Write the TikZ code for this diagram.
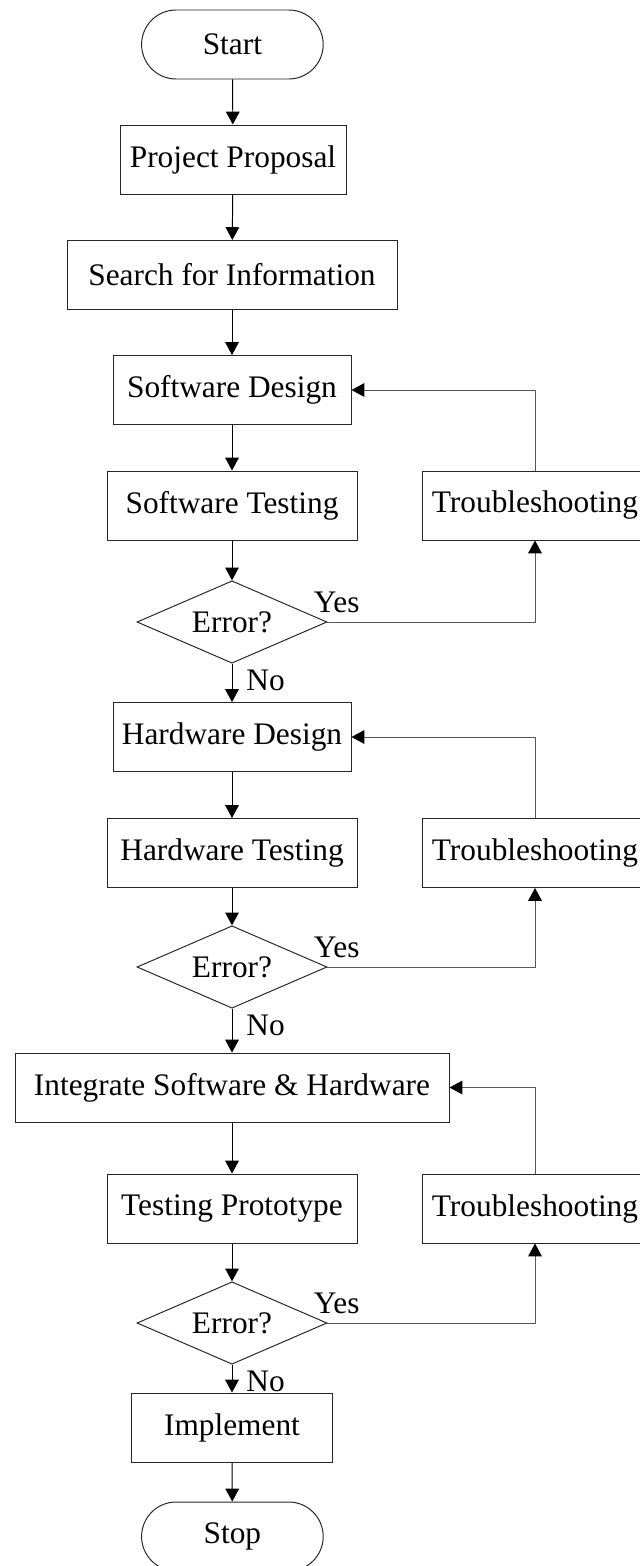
\documentclass[tikz,border=0pt]{standalone}
\usepackage{fontspec}
\setmainfont{Liberation Serif}
\usetikzlibrary{shapes}
\usetikzlibrary{arrows.meta}

\begin{document}
\begin{tikzpicture}[line width=0.7pt, font=\fontsize{22.3}{26}\selectfont,
    box/.style={draw=black!85, rectangle, minimum height=1.725cm, inner sep=0pt},
    term/.style={draw=black!85, rounded rectangle, minimum width=4.775cm, minimum height=1.725cm},
    decision/.style={draw=black!85, diamond, aspect=2.3, minimum width=4.75cm, minimum height=2.06cm, inner sep=0pt},
    flow/.style={-{Triangle[width=0.34cm,length=0.32cm]}},
    back/.style={draw=black!65, -{Triangle[width=0.34cm,length=0.32cm,color=black]}},
    answer/.style={inner sep=0pt}]
            % page size
            \clip (0, 0) rectangle (16, -39.15);

            % main column
            \node[term] (start) at (5.81, -1.1125) {Start};
            \node[box, minimum width=5.65cm] (proposal) at (5.825, -3.9875) {Project Proposal};
            \node[box, minimum width=8.25cm] (search) at (5.8, -6.875) {Search for Information};

            \node[box, minimum width=5.95cm] (swdesign) at (5.8, -9.75) {Software Design};
            \node[box, minimum width=6.25cm] (swtest) at (5.8, -12.6375) {Software Testing};
            \node[decision] (swerror) at (5.8, -15.55) {Error?};

            \node[box, minimum width=5.95cm] (hwdesign) at (5.8, -18.425) {Hardware Design};
            \node[box, minimum width=6.25cm] (hwtest) at (5.8, -21.325) {Hardware Testing};
            \node[decision] (hwerror) at (5.8, -24.175) {Error?};

            \node[box, minimum width=10.85cm] (integrate) at (5.8, -27.1875) {Integrate Software \& Hardware};
            \node[box, minimum width=6.25cm] (prototype) at (5.8, -30.2125) {Testing Prototype};
            \node[decision] (proterror) at (5.8, -33.075) {Error?};

            \node[box, minimum width=5.025cm] (implement) at (5.8, -35.6875) {Implement};
            \node[term] (stop) at (5.81, -38.4125) {Stop};

            % troubleshooting boxes
            \node[box, minimum width=5.65cm] (swfix) at (13.375, -12.6375) {Troubleshooting};
            \node[box, minimum width=5.65cm] (hwfix) at (13.375, -21.325) {Troubleshooting};
            \node[box, minimum width=5.65cm] (protfix) at (13.375, -30.2125) {Troubleshooting};

            % draw main arrows
            \draw[flow] (start) -- (proposal);
            \draw[flow] (proposal) -- (search);
            \draw[flow] (search) -- (swdesign);
            \draw[flow] (swdesign) -- (swtest);
            \draw[flow] (swtest) -- (swerror);
            \draw[flow] (swerror) -- (hwdesign);
            \draw[flow] (hwdesign) -- (hwtest);
            \draw[flow] (hwtest) -- (hwerror);
            \draw[flow] (hwerror) -- (integrate);
            \draw[flow] (integrate) -- (prototype);
            \draw[flow] (prototype) -- (proterror);
            \draw[flow] (proterror) -- (implement);
            \draw[flow] (implement) -- (stop);

            % draw feedback loops
            \draw[back] (swerror.east) -| (swfix.south);
            \draw[back] (swfix.north) |- (swdesign.east);
            \draw[back] (hwerror.east) -| (hwfix.south);
            \draw[back] (hwfix.north) |- (hwdesign.east);
            \draw[back] (proterror.east) -| (protfix.south);
            \draw[back] (protfix.north) |- (integrate.east);

            % yes / no labels
            \node[answer, anchor=base west] (swyes) at ([shift={(-0.35, 0.25)}]swerror.east) {Yes};
            \node[answer, anchor=base west] (swno) at ([shift={(0.35, -0.675)}]swerror.south) {No};
            \node[answer, anchor=base west] (hwyes) at ([shift={(-0.35, 0.25)}]hwerror.east) {Yes};
            \node[answer, anchor=base west] (hwno) at ([shift={(0.35, -0.675)}]hwerror.south) {No};
            \node[answer, anchor=base west] (protyes) at ([shift={(-0.35, 0.25)}]proterror.east) {Yes};
            \node[answer, anchor=base west] (protno) at ([shift={(0.35, -0.675)}]proterror.south) {No};
\end{tikzpicture}
\end{document}
